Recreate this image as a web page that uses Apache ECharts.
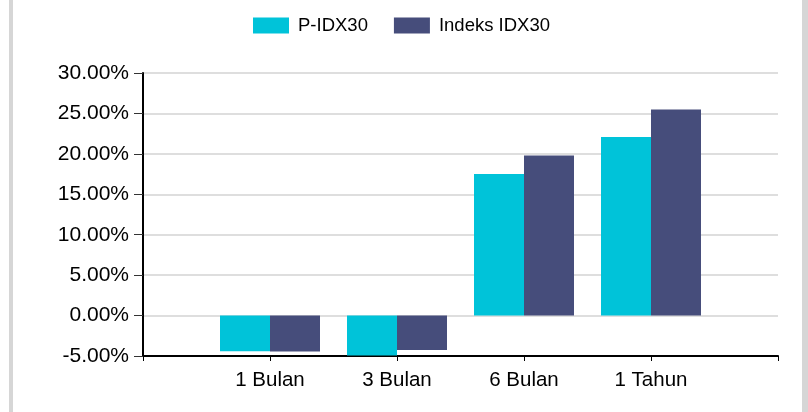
<!DOCTYPE html>
<html>
<head>
<meta charset="utf-8">
<script src="https://cdn.jsdelivr.net/npm/echarts@6/dist/echarts.min.js"></script>
<style>
html,body{margin:0;padding:0;background:#fff;}
#chart{width:808px;height:412px;}
</style>
</head>
<body>
<div id="chart"></div>
<script>
var categories = ['', '1 Bulan', '3 Bulan', '6 Bulan', '1 Tahun', ''];
var seriesNames = ['P-IDX30', 'Indeks IDX30'];
var pIdx30 = [null, -4.4, -4.95, 17.5, 22.1, null];
var indeksIdx30 = [null, -4.45, -4.25, 19.8, 25.5, null];
var yTicks = [-5, 0, 5, 10, 15, 20, 25, 30];

var FONT = '"Liberation Sans", Arial, sans-serif';
var chart = echarts.init(document.getElementById('chart'), null, {renderer: 'canvas'});
chart.setOption({
  animation: false,
  backgroundColor: '#fff',
  graphic: [
    {type: 'rect', shape: {x: 9, y: 0, width: 4, height: 412}, style: {fill: '#d6d6d6'}, silent: true},
    {type: 'rect', shape: {x: 802, y: 0, width: 6, height: 412}, style: {fill: '#d6d6d6'}, silent: true}
  ],
  legend: {
    left: 248,
    top: 11,
    itemWidth: 36,
    itemHeight: 16,
    itemGap: 26,
    icon: 'rect',
    textStyle: {fontFamily: FONT, fontSize: 18.5, color: '#000', padding: [0, 0, 0, 4]},
    data: seriesNames
  },
  grid: {left: 143, right: 30, top: 73, bottom: 56, containLabel: false},
  xAxis: {
    type: 'category',
    data: categories,
    boundaryGap: false,
    axisLine: {show: true, onZero: false, lineStyle: {color: '#000', width: 2}},
    axisTick: {show: true, length: 5, lineStyle: {color: '#000', width: 1}},
    axisLabel: {interval: 0, margin: 14, fontFamily: FONT, fontSize: 20.5, color: '#000'},
    splitLine: {show: false}
  },
  yAxis: {
    type: 'value',
    min: yTicks[0],
    max: yTicks[yTicks.length - 1],
    interval: 5,
    axisLine: {show: true, lineStyle: {color: '#000', width: 2}},
    axisTick: {show: true, length: 9, lineStyle: {color: '#333', width: 1}},
    axisLabel: {
      margin: 14,
      fontFamily: FONT, fontSize: 21, color: '#000',
      formatter: function (v) { return v.toFixed(2) + '%'; }
    },
    splitLine: {show: true, lineStyle: {color: '#dedede', width: 2}}
  },
  series: [
    {name: seriesNames[0], type: 'bar', data: pIdx30, barWidth: 50, barGap: '0%', itemStyle: {color: '#00C3D9'}},
    {name: seriesNames[1], type: 'bar', data: indeksIdx30, barWidth: 50, barGap: '0%', itemStyle: {color: '#464D7B'}}
  ]
});
</script>
</body>
</html>
